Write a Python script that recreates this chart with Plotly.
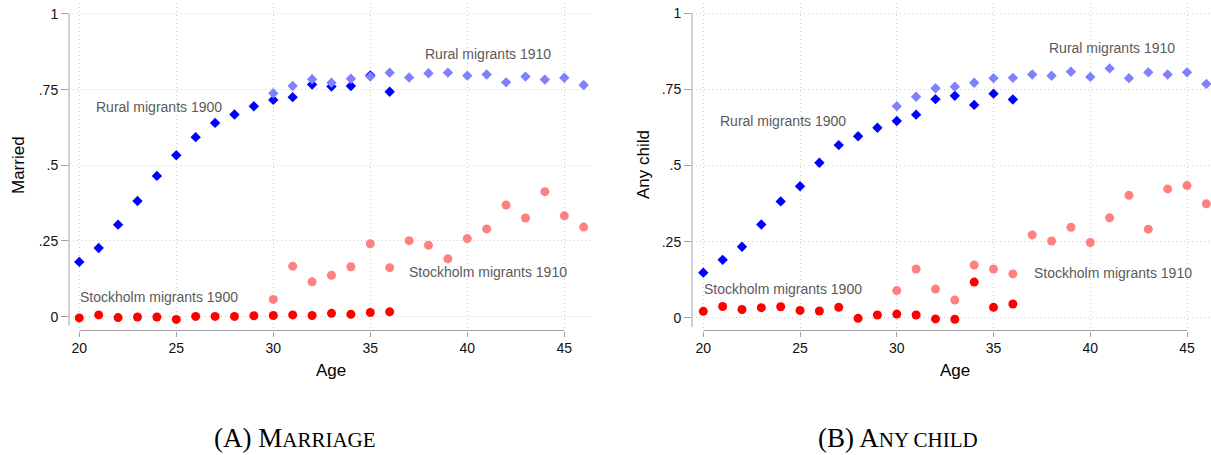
import plotly.graph_objects as go

# Ages observed for each cohort
ages_1900 = [20, 21, 22, 23, 24, 25, 26, 27, 28, 29, 30, 31, 32, 33, 34, 35, 36]
ages_1910 = [30, 31, 32, 33, 34, 35, 36, 37, 38, 39, 40, 41, 42, 43, 44, 45, 46]

# Share married, by migrant group and census year
married_rural_1900 = [0.181, 0.227, 0.304, 0.382, 0.465, 0.533, 0.593, 0.640, 0.668,
                      0.695, 0.716, 0.725, 0.767, 0.760, 0.762, 0.797, 0.743]
married_rural_1910 = [0.738, 0.762, 0.784, 0.773, 0.786, 0.793, 0.806, 0.790, 0.804,
                      0.806, 0.796, 0.800, 0.774, 0.793, 0.783, 0.789, 0.765]
married_sthlm_1900 = [-0.004, 0.006, -0.003, -0.001, -0.001, -0.009, 0.001, 0.001, 0.001,
                      0.003, 0.004, 0.006, 0.004, 0.011, 0.008, 0.014, 0.016]
married_sthlm_1910 = [0.057, 0.167, 0.115, 0.137, 0.165, 0.241, 0.162, 0.251, 0.236,
                      0.191, 0.258, 0.290, 0.369, 0.326, 0.413, 0.333, 0.296]

# Share with any child, by migrant group and census year
child_rural_1900 = [0.148, 0.190, 0.233, 0.306, 0.382, 0.432, 0.509, 0.567, 0.596,
                    0.624, 0.646, 0.667, 0.718, 0.729, 0.699, 0.736, 0.717]
child_rural_1910 = [0.695, 0.726, 0.754, 0.759, 0.772, 0.787, 0.788, 0.799, 0.795,
                    0.808, 0.791, 0.819, 0.787, 0.806, 0.799, 0.806, 0.768]
child_sthlm_1900 = [0.021, 0.037, 0.027, 0.033, 0.036, 0.024, 0.022, 0.034, -0.002,
                    0.009, 0.012, 0.009, -0.004, -0.005, 0.117, 0.034, 0.045]
child_sthlm_1910 = [0.089, 0.160, 0.094, 0.058, 0.173, 0.160, 0.144, 0.272, 0.252,
                    0.297, 0.247, 0.328, 0.402, 0.291, 0.423, 0.434, 0.374]

x_ticks = [20, 25, 30, 35, 40, 45]
y_ticks = [0, 0.25, 0.5, 0.75, 1]
y_ticktext = ["0", ".25", ".5", ".75", "1"]

W, H = 1211, 455


def fx(p):
    return p / W


def fy(p):
    return 1 - p / H


BLUE, LBLUE, RED, LRED = "#0000ff", "#8080ff", "#ff0000", "#ff8080"
AXIS_GREY = "#a0a0a0"
GRID = "#cccccc"
GRID_DASH = "1px,3px"
FONT = "Liberation Sans, Arial, sans-serif"

fig = go.Figure()

panels = [
    ("x", "y", married_rural_1900, married_rural_1910, married_sthlm_1900, married_sthlm_1910),
    ("x2", "y2", child_rural_1900, child_rural_1910, child_sthlm_1900, child_sthlm_1910),
]
for xa, ya, r00, r10, s00, s10 in panels:
    for ages, vals, sym, col, size in [
        (ages_1900, r00, "diamond", BLUE, 8),
        (ages_1910, r10, "diamond", LBLUE, 8),
        (ages_1900, s00, "circle", RED, 9),
        (ages_1910, s10, "circle", LRED, 9),
    ]:
        fig.add_trace(go.Scatter(
            x=ages, y=vals, mode="markers", xaxis=xa, yaxis=ya,
            marker=dict(symbol=sym, size=size, color=col, line=dict(width=0)),
            cliponaxis=False, showlegend=False, hoverinfo="skip",
        ))

common_x = dict(
    tickvals=x_ticks, ticks="outside", ticklen=5, tickwidth=1, tickcolor=AXIS_GREY,
    showgrid=True, gridcolor=GRID, griddash=GRID_DASH, gridwidth=1,
    showline=False, zeroline=False, tickfont=dict(family=FONT, size=14, color="#111"),
)
common_y = dict(
    tickvals=y_ticks, ticktext=y_ticktext, ticks="outside", ticklen=7, tickwidth=1,
    tickcolor=AXIS_GREY, showgrid=True, gridcolor=GRID, griddash=GRID_DASH, gridwidth=1,
    showline=False, zeroline=False, tickfont=dict(family=FONT, size=14, color="#111"),
)

xr1 = [19.47, 46.48]
yr1 = [-0.0456, 1.036]
xr2 = [19.416, 46.24]
yr2 = [-0.042, 1.0338]
ydom = [fy(330.5), fy(3)]

fig.update_layout(
    width=W, height=H, margin=dict(l=0, r=0, t=0, b=0),
    paper_bgcolor="white", plot_bgcolor="white",
    xaxis=dict(domain=[fx(69), fx(593)], range=xr1, anchor="y", **common_x),
    yaxis=dict(domain=ydom, range=yr1, anchor="x", **common_y),
    xaxis2=dict(domain=[fx(692), 1.0], range=xr2, anchor="y2", **common_x),
    yaxis2=dict(domain=ydom, range=yr2, anchor="x2", **common_y),
)


def frac(v, r):
    return (v - r[0]) / (r[1] - r[0])


# Stata-style axis lines: y axis spans the tick range, x axis offset below the plot
shapes = []
for xs, ys, xr, yr in [("x", "y", xr1, yr1), ("x2", "y2", xr2, yr2)]:
    shapes.append(dict(type="line", xref=f"{xs} domain", yref=f"{ys} domain",
                       x0=0, x1=0, y0=frac(-0.03, yr), y1=frac(1, yr),
                       line=dict(color=AXIS_GREY, width=1)))
    shapes.append(dict(type="line", xref=f"{xs} domain", yref=f"{ys} domain",
                       x0=frac(20, xr), x1=frac(45, xr), y0=0, y1=0,
                       line=dict(color=AXIS_GREY, width=1)))
fig.update_layout(shapes=shapes)

annotations = []
label_font = dict(family=FONT, size=14, color="#5a5a5a")
series_labels = [
    ("x", "y", "Rural migrants 1900", 20.81, 0.693),
    ("x", "y", "Rural migrants 1910", 37.77, 0.868),
    ("x", "y", "Stockholm migrants 1900", 20.0, 0.064),
    ("x", "y", "Stockholm migrants 1910", 36.96, 0.148),
    ("x2", "y2", "Rural migrants 1900", 20.81, 0.646),
    ("x2", "y2", "Rural migrants 1910", 37.83, 0.885),
    ("x2", "y2", "Stockholm migrants 1900", 20.0, 0.093),
    ("x2", "y2", "Stockholm migrants 1910", 37.02, 0.147),
]
for xs, ys, txt, xv, yv in series_labels:
    annotations.append(dict(xref=xs, yref=ys, x=xv, y=yv, text=txt, showarrow=False,
                            xanchor="left", yanchor="middle", font=label_font,
                            borderpad=0))

title_font = dict(family=FONT, size=17, color="#000")
annotations += [
    dict(xref="paper", yref="paper", x=fx(18), y=fy(165), text="Married", textangle=-90,
         showarrow=False, xanchor="center", yanchor="middle", font=title_font),
    dict(xref="paper", yref="paper", x=fx(643), y=fy(165), text="Any child", textangle=-90,
         showarrow=False, xanchor="center", yanchor="middle", font=title_font),
    dict(xref="paper", yref="paper", x=fx(331), y=fy(370), text="Age",
         showarrow=False, xanchor="center", yanchor="middle", font=title_font),
    dict(xref="paper", yref="paper", x=fx(955), y=fy(370), text="Age",
         showarrow=False, xanchor="center", yanchor="middle", font=title_font),
]

cap_font = dict(family="Liberation Serif, Times New Roman, serif", size=27, color="#000")
sc = "<span style='font-size:21px'>{}</span>"
annotations += [
    dict(xref="paper", yref="paper", x=fx(295), y=fy(438),
         text="(A) M" + sc.format("ARRIAGE"), showarrow=False,
         xanchor="center", yanchor="middle", font=cap_font),
    dict(xref="paper", yref="paper", x=fx(898), y=fy(438),
         text="(B) A" + sc.format("NY CHILD"), showarrow=False,
         xanchor="center", yanchor="middle", font=cap_font),
]
fig.update_layout(annotations=annotations)

fig.write_html("out.html")
